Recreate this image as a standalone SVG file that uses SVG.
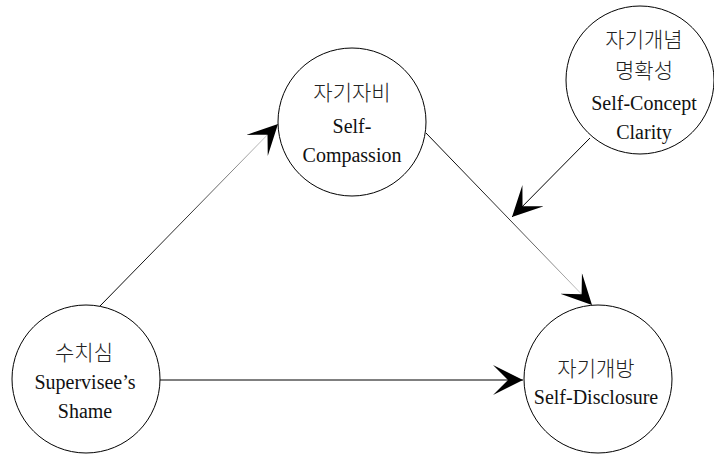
<svg xmlns="http://www.w3.org/2000/svg" width="714" height="454" viewBox="0 0 714 454">
<style>
.node circle{fill:#fff;stroke:#000;stroke-width:1}
.en{font-family:"Liberation Serif","Noto Sans CJK KR",serif;font-size:20px;fill:#111;text-anchor:middle}
.ko{font-family:"Noto Sans CJK KR","Liberation Serif",sans-serif;font-size:21px;font-weight:300;fill:#222;text-anchor:middle}
.edge{fill:none;stroke-width:1}
</style>
<defs>
<marker id="arr" viewBox="0 0 30 30" refX="30" refY="15" markerWidth="30" markerHeight="30" markerUnits="userSpaceOnUse" orient="auto">
<path d="M30,15 L0,0 L15,15 L0,30 Z" fill="#000"/>
</marker>
<linearGradient id="g1" gradientUnits="userSpaceOnUse" x1="100" y1="306" x2="278" y2="125">
<stop offset="0" stop-color="#000"/><stop offset="0.5" stop-color="#333"/><stop offset="1" stop-color="#ddd"/>
</linearGradient>
<linearGradient id="g3" gradientUnits="userSpaceOnUse" x1="426" y1="133" x2="593" y2="305">
<stop offset="0" stop-color="#000"/><stop offset="0.5" stop-color="#333"/><stop offset="1" stop-color="#ddd"/>
</linearGradient>
</defs>
<g id="connectors">
<line class="edge" x1="100" y1="306" x2="278" y2="124" stroke="url(#g1)" marker-end="url(#arr)"/>
<line class="edge" x1="160" y1="380" x2="523" y2="380" stroke="#000" marker-end="url(#arr)"/>
<line class="edge" x1="426" y1="133" x2="592" y2="305" stroke="url(#g3)" marker-end="url(#arr)"/>
<line class="edge" x1="590" y1="138" x2="512" y2="217" stroke="#000" marker-end="url(#arr)"/>
</g>
<g id="self-compassion" class="node">
<circle cx="352" cy="122" r="74"/>
<text class="ko" x="352" y="100">자기자비</text>
<text class="en" x="352" y="133">Self-</text>
<text class="en" x="352" y="162">Compassion</text>
</g>
<g id="self-concept-clarity" class="node">
<circle cx="640" cy="80" r="74"/>
<text class="ko" x="644" y="47">자기개념</text>
<text class="ko" x="644" y="78">명확성</text>
<text class="en" x="644" y="110">Self-Concept</text>
<text class="en" x="644" y="139">Clarity</text>
</g>
<g id="shame" class="node">
<circle cx="86" cy="379" r="74"/>
<text class="ko" x="84" y="360">수치심</text>
<text class="en" x="85" y="389">Supervisee’s</text>
<text class="en" x="85" y="418">Shame</text>
</g>
<g id="self-disclosure" class="node">
<circle cx="598" cy="379" r="74"/>
<text class="ko" x="596" y="376">자기개방</text>
<text class="en" x="596" y="404">Self-Disclosure</text>
</g>
</svg>
